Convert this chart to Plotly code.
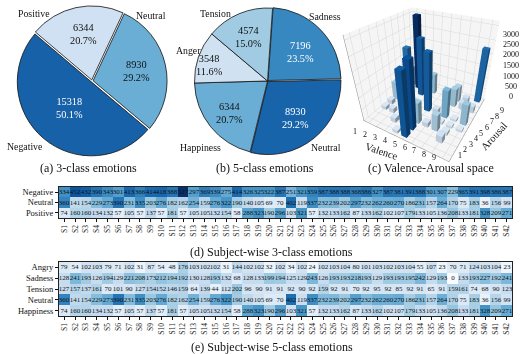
import plotly.graph_objects as go
from plotly.colors import sample_colorscale
import re

W, H = 532, 354
FONT = "Liberation Serif"

# ---- data ----
pie3_labels = ["Neutral", "Negative", "Positive"]
pie3_values = [8930, 15318, 6344]
pie5_labels = ["Sadness", "Neutral", "Happiness", "Anger", "Tension"]
pie5_values = [7196, 8930, 6344, 3548, 4574]

subjects = [f"S{i}" for i in range(1, 43)]
rows3 = ["Negative", "Neutral", "Positive"]
negative = [334,452,432,390,343,301,413,366,414,418,388,527,297,369,339,275,414,326,325,322,387,251,321,359,387,388,388,368,386,327,387,381,391,388,301,307,229,365,391,398,386,387]
neutral = [360,141,154,229,273,390,231,335,203,276,182,162,254,159,276,322,190,140,105,69,70,402,119,337,232,239,202,297,232,262,260,270,186,231,157,264,170,75,183,36,156,99]
positive = [74,160,160,134,132,57,105,57,137,57,181,57,105,105,132,154,58,288,323,190,296,103,321,57,132,133,162,87,133,162,102,107,179,133,105,136,208,133,181,328,209,271]
rows5 = ["Angry", "Sadness", "Tension", "Neutral", "Happiness"]
angry = [79,54,102,103,79,71,102,31,87,54,48,176,103,102,102,31,144,102,102,32,102,34,102,24,102,103,104,80,101,103,102,103,104,55,107,23,70,71,124,103,104,23]
sadness = [128,241,193,126,194,129,221,208,173,212,194,192,130,128,193,132,68,128,133,199,194,125,129,243,126,193,193,218,193,129,193,193,195,242,129,193,0,133,193,227,192,241]
tension = [127,157,137,161,70,101,90,127,154,152,146,159,64,139,44,112,202,96,90,91,91,92,90,92,159,92,91,70,92,95,92,85,92,91,65,91,159,161,74,68,90,123]

bar_valence = [1,1,2,3,1,3,4,5,5,2,2,3,5,5,6,7,6,7,7,9,7,8,8,7,8,8,9,8,8,9,9,4,1]
bar_arousal = [3,4,3,4,5,2,1,1,2,6,8,7,5,3,3,3,5,5,7,5,8,2,3,4,4,5,4,8,7,7,9,8,8]
bar_counts  = [150,200,200,500,800,200,120,2500,2650,2150,3100,2450,2400,900,200,700,250,1200,800,900,700,300,150,100,100,100,100,300,300,300,2250,900,900]
valence_ticks = [1, 2, 3, 4, 5, 6, 7, 8, 9]
arousal_ticks = [1, 2, 3, 4, 5, 6, 7, 8, 9]
count_ticks = [0, 500, 1000, 1500, 2000, 2500, 3000]

# ---- style ----
def px(x, y):
    return x / W, 1 - y / H

fig = go.Figure()

def add_pie(values, labels, colors, rotation, cx, cy, r, pull):
    box = r * (1 + max(pull))
    x0, y1 = px(cx - box, cy - box)
    x1, y0 = px(cx + box, cy + box)
    fig.add_trace(go.Pie(values=values, labels=labels, sort=False, direction="clockwise",
                         rotation=rotation, pull=pull, textinfo="none", hoverinfo="label+value",
                         showlegend=False, domain=dict(x=[x0, x1], y=[y0, y1]),
                         marker=dict(colors=colors, line=dict(color="#111111", width=0.8))))

add_pie(pie3_values, pie3_labels, ["#6aaed6", "#1761a8", "#cfe1f2"], 25, 92, 81, 74, [0.015, 0.015, 0.015])
add_pie(pie5_values, pie5_labels, ["#3787c0", "#1764ab", "#6aaed6", "#d0e2f2", "#a0cbe2"], 4, 267.5, 81, 73, [0.01, 0.01, 0, 0, 0.0])

ann = []
def text(x, y, s, size=9.8, color="#111111", angle=0):
    ax, ay = px(x, y)
    ann.append(dict(x=ax, y=ay, xref="paper", yref="paper", text=str(s), showarrow=False, textangle=angle,
                    font=dict(family=FONT, size=size, color=color), xanchor="center", yanchor="middle"))

def pct(v, vals):
    return f"{v}<br>{100 * v / sum(vals):.1f}%"

IN = 10.3
text(136, 71, pct(pie3_values[0], pie3_values), IN)
text(69, 108, pct(pie3_values[1], pie3_values), IN, color="white")
text(83, 34, pct(pie3_values[2], pie3_values), IN)
text(151, 15, "Neutral"); text(25, 146, "Negative"); text(34, 13, "Positive")

text(300, 52, pct(pie5_values[0], pie5_values), IN, color="white")
text(295, 118, pct(pie5_values[1], pie5_values), IN, color="white")
text(229, 113, pct(pie5_values[2], pie5_values), IN)
text(209, 65, pct(pie5_values[3], pie5_values), IN)
text(248, 37, pct(pie5_values[4], pie5_values), IN)
text(325, 16, "Sadness"); text(326, 148, "Neutral"); text(200, 147, "Happiness")
text(188, 50, "Anger"); text(215, 14, "Tension")

CAP = 12
text(88, 168, "(a) 3-class emotions", CAP)
text(265, 168, "(b) 5-class emotions", CAP)
text(431, 168, "(c) Valence-Arousal space", CAP)
text(271, 252, "(d) Subject-wise 3-class emotions", CAP)
text(272, 347, "(e) Subject-wise 5-class emotions", CAP)
text(382, 151, "Valence", 10.5, angle=18)
text(494, 137, "Arousal", 10.5, angle=-48)

# tick labels of the 3-D panel
for i, v in enumerate(valence_ticks):
    text(355 + i * 9.9, 131 + i * 3.31, v, 8)
for i, a in enumerate(arousal_ticks):
    text(460 + i * 5.3, 155.5 - i * 5.6, a, 8)
for i, c in enumerate(count_ticks):
    text(510.5, 97 - i * 10.5, c, 8)

# ---- heatmaps ----
def add_heat(n, z, rows, left, right, top, bottom):
    fig.add_trace(go.Heatmap(z=z, x=subjects, y=rows, text=z, texttemplate="%{text}",
                             textfont=dict(family=FONT, size=7, color="#111111"),
                             colorscale="Blues", zmin=0, zmax=527, showscale=False, xgap=0, ygap=0,
                             xaxis=f"x{n}", yaxis=f"y{n}"))
    x0, y1 = px(left, top); x1, y0 = px(right, bottom)
    common = dict(showline=True, mirror=True, linecolor="#222222", linewidth=1, ticks="outside",
                  tickcolor="#111111", ticklen=3, tickwidth=1, showgrid=False, zeroline=False)
    fig.update_layout({f"xaxis{n}": dict(domain=[x0, x1], anchor=f"y{n}", tickangle=-90, type="category",
                                         tickfont=dict(family=FONT, size=7.5, color="#222222"), **common),
                       f"yaxis{n}": dict(domain=[y0, y1], anchor=f"x{n}", autorange="reversed", type="category",
                                         tickfont=dict(family=FONT, size=8.5, color="#111111"), **common)})

add_heat(2, [negative, neutral, positive], rows3, 59, 512, 187, 218)
add_heat(3, [angry, sadness, tension, neutral, positive], rows5, 59, 512, 262, 316)

# ---- 3-D bars: one cuboid per (valence, arousal) cell ----
VMAX = 3100
def shade(rgb, f):
    nums = [float(v) for v in re.findall(r"[\d.]+", rgb)[:3]]
    return "rgb({:.0f},{:.0f},{:.0f})".format(*[c * f for c in nums])

hw = 0.3
X, Y, Z, I, J, K, FC = [], [], [], [], [], [], []
for v, a, c in zip(bar_valence, bar_arousal, bar_counts):
    base = len(X)
    for zz in (0, c):
        X += [v - hw, v + hw, v + hw, v - hw]
        Y += [a - hw, a - hw, a + hw, a + hw]
        Z += [zz] * 4
    col = sample_colorscale("Blues", [0.12 + 0.88 * c / VMAX])[0]
    faces = [((4, 5, 6), 1.0), ((4, 6, 7), 1.0),      # top
             ((0, 1, 5), 0.9), ((0, 5, 4), 0.9),      # front
             ((1, 2, 6), 0.62), ((1, 6, 5), 0.62),    # right
             ((3, 0, 4), 0.8), ((3, 4, 7), 0.8),      # left
             ((2, 3, 7), 0.8), ((2, 7, 6), 0.8)]      # back
    for (p, q, r), f in faces:
        I.append(base + p); J.append(base + q); K.append(base + r); FC.append(shade(col, f))

fig.add_trace(go.Mesh3d(x=X, y=Y, z=Z, i=I, j=J, k=K, facecolor=FC, flatshading=True,
                        lighting=dict(ambient=1, diffuse=0, specular=0, roughness=1, fresnel=0),
                        hoverinfo="skip", scene="scene"))

axis3 = dict(showbackground=True, backgroundcolor="#f5f5f5", gridcolor="#d8d8d8", gridwidth=1,
             linecolor="#888888", showline=True, zeroline=False, title=dict(text=""),
             showticklabels=False, ticks="", showspikes=False)
x0, y1 = px(338, 0); x1, y0 = px(518, 170)
fig.update_layout(scene=dict(
    domain=dict(x=[x0, x1], y=[y0, y1]),
    xaxis=dict(range=[0.4, 9.6], tickvals=valence_ticks, **axis3),
    yaxis=dict(range=[0.4, 9.6], tickvals=arousal_ticks, **axis3),
    zaxis=dict(range=[0, 3150], tickvals=count_ticks, **axis3),
    aspectmode="manual", aspectratio=dict(x=1, y=1, z=0.95),
    camera=dict(eye=dict(x=0.885, y=-1.53, z=1.08), center=dict(x=0, y=0, z=-0.14),
                projection=dict(type="perspective"))))

fig.update_layout(width=W, height=H, margin=dict(l=0, r=0, t=0, b=0), paper_bgcolor="white",
                  plot_bgcolor="white", annotations=ann, showlegend=False,
                  font=dict(family=FONT))
fig.write_html("out.html", post_script="document.body.style.margin='0';", config=dict(displayModeBar=False))
